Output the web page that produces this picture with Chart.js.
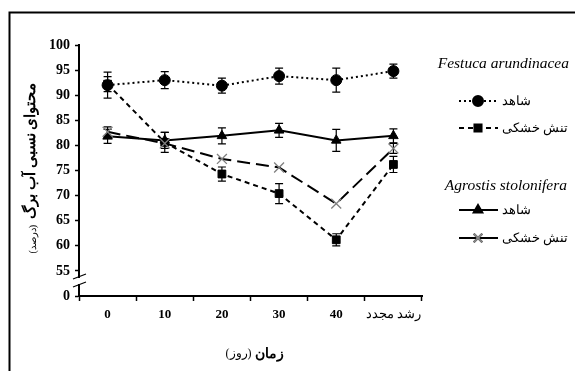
<!DOCTYPE html>
<html>
<head>
<meta charset="utf-8">
<script src="https://cdn.jsdelivr.net/npm/chart.js@4.4.0/dist/chart.umd.min.js"></script>
<style>
  html, body { margin: 0; padding: 0; background: #fff; }
  canvas { display: block; }
</style>
</head>
<body>
<canvas id="rwcChart" width="575" height="371"></canvas>
<script>
// days after start of drought + regrowth
const days = ['0', '10', '20', '30', '40', 'رشد مجدد'];

// Festuca arundinacea
const festucaControl = [92, 93, 91.9, 93.8, 93, 94.8];
const festucaControlErr = [2.6, 1.7, 1.5, 1.6, 2.4, 1.4];
const festucaDrought = [92.2, 80.6, 74.3, 70.4, 61.2, 76.2];
const festucaDroughtErr = [1.5, 2, 1.4, 2, 1.2, 1.6];

// Agrostis stolonifera
const agrostisControl = [81.8, 81, 81.9, 83, 81, 81.9];
const agrostisControlErr = [1.4, 1.6, 1.6, 1.4, 2.2, 1.4];
const agrostisDrought = [82.7, 80.4, 77.3, 75.6, 68.4, 79.4];
const agrostisDroughtErr = [1, 0, 0, 0, 0, 1];

const yMin = 50, yMax = 100, yStep = 5;

const frameAndLegend = {
  id: 'frameAndLegend',
  beforeDatasetsDraw(chart) {
    const ctx = chart.ctx;
    const y = chart.scales.y;
    ctx.save();
    ctx.strokeStyle = '#000';
    ctx.lineWidth = 1.2;
    chart.data.datasets.forEach((ds, i) => {
      const meta = chart.getDatasetMeta(i);
      meta.data.forEach((pt, j) => {
        const e = ds.errors[j];
        if (!e) return;
        const top = y.getPixelForValue(ds.data[j] + e);
        const bot = y.getPixelForValue(ds.data[j] - e);
        ctx.beginPath();
        ctx.moveTo(pt.x, top); ctx.lineTo(pt.x, bot);
        ctx.moveTo(pt.x - 4, top); ctx.lineTo(pt.x + 4, top);
        ctx.moveTo(pt.x - 4, bot); ctx.lineTo(pt.x + 4, bot);
        ctx.stroke();
      });
    });
    ctx.restore();
  },
  afterDraw(chart) {
    const ctx = chart.ctx;
    const area = chart.chartArea;
    ctx.save();

    // outer frame (top and left)
    ctx.strokeStyle = '#000';
    ctx.lineWidth = 2;
    ctx.beginPath();
    ctx.moveTo(575, 12.5); ctx.lineTo(9.5, 12.5); ctx.lineTo(9.5, 371);
    ctx.stroke();

    // axis break
    const ax = area.left;
    ctx.fillStyle = '#fff';
    ctx.fillRect(ax - 3, 278, 6, 6);
    ctx.lineWidth = 1.2;
    ctx.beginPath();
    ctx.moveTo(ax - 6, 279); ctx.lineTo(ax + 7, 274);
    ctx.moveTo(ax - 6, 287); ctx.lineTo(ax + 7, 282);
    ctx.stroke();

    // y title
    ctx.fillStyle = '#000';
    ctx.direction = 'rtl';
    ctx.translate(31, 168);
    ctx.rotate(-Math.PI / 2);
    ctx.textBaseline = 'middle';
    const mainFont = 'bold 15px "Liberation Serif", serif';
    const unitFont = '10px "Liberation Serif", serif';
    ctx.font = mainFont;
    const main = 'محتوای نسبی آب برگ';
    const mainW = ctx.measureText(main).width;
    ctx.font = unitFont;
    const unit = '(درصد)';
    const unitW = ctx.measureText(unit).width;
    const total = mainW + 6 + unitW;
    ctx.textAlign = 'right';
    ctx.font = mainFont;
    ctx.fillText(main, total / 2, 0);
    ctx.font = unitFont;
    ctx.fillText(unit, total / 2 - mainW - 6, 2);
    ctx.setTransform(1, 0, 0, 1, 0, 0);

    // x title
    ctx.textBaseline = 'middle';
    ctx.font = 'bold 14px "Liberation Serif", serif';
    const xt = 'زمان';
    const xtW = ctx.measureText(xt).width;
    ctx.font = '12px "Liberation Serif", serif';
    const xu = '(روز)';
    const xuW = ctx.measureText(xu).width;
    const xc = 255, xTot = xtW + 4 + xuW;
    ctx.textAlign = 'right';
    ctx.font = 'bold 14px "Liberation Serif", serif';
    ctx.fillText(xt, xc + xTot / 2, 354);
    ctx.font = '12px "Liberation Serif", serif';
    ctx.fillText(xu, xc + xTot / 2 - xtW - 4, 354);

    // legend
    ctx.direction = 'ltr';
    ctx.textAlign = 'right';
    ctx.font = 'italic 15.5px "Liberation Serif", serif';
    ctx.fillText('Festuca arundinacea', 569, 64);
    ctx.fillText('Agrostis stolonifera', 567, 186);

    const items = [
      { y: 101, label: 'شاهد', dash: [2, 3], marker: 'circle' },
      { y: 128, label: 'تنش خشکی', dash: [5, 4], marker: 'rect' },
      { y: 210, label: 'شاهد', dash: [], marker: 'triangle' },
      { y: 238, label: 'تنش خشکی', dash: [], marker: 'crossRot' }
    ];
    items.forEach(it => {
      ctx.strokeStyle = '#000';
      ctx.lineWidth = 2;
      ctx.setLineDash(it.dash);
      ctx.beginPath();
      ctx.moveTo(459, it.y); ctx.lineTo(498, it.y);
      ctx.stroke();
      ctx.setLineDash([]);
      const isCross = it.marker === 'crossRot';
      Chart.helpers.drawPoint(ctx, {
        pointStyle: it.marker,
        radius: isCross ? 6 : 5,
        borderWidth: isCross ? 1.2 : 1
      }, 478, it.y);
      ctx.fillStyle = '#000';
      ctx.strokeStyle = isCross ? '#888' : '#000';
      ctx.fill();
      if (isCross) ctx.stroke();
      ctx.fillStyle = '#000';
      ctx.direction = 'rtl';
      ctx.textAlign = 'left';
      ctx.font = '13px "Liberation Serif", serif';
      ctx.fillText(it.label, 502, it.y + 1);
      ctx.direction = 'ltr';
    });
    ctx.restore();
  }
};

function makeSet(data, errors, dash, style, radius, markColor) {
  return {
    data: data,
    errors: errors,
    borderColor: '#000',
    borderWidth: 2,
    borderDash: dash,
    pointStyle: style,
    pointRadius: radius,
    pointBackgroundColor: markColor,
    pointBorderColor: markColor,
    pointBorderWidth: style === 'crossRot' ? 1.3 : 1,
    fill: false,
    tension: 0
  };
}

new Chart(document.getElementById('rwcChart'), {
  type: 'line',
  data: {
    labels: days,
    datasets: [
      makeSet(agrostisDrought, agrostisDroughtErr, [13, 6], 'crossRot', 7, '#808080'),
      makeSet(agrostisControl, agrostisControlErr, [], 'triangle', 5.5, '#000'),
      makeSet(festucaDrought, festucaDroughtErr, [5, 4], 'rect', 5.5, '#000'),
      makeSet(festucaControl, festucaControlErr, [2, 3], 'circle', 5.5, '#000')
    ]
  },
  options: {
    responsive: false,
    animation: false,
    layout: { padding: { top: 45, right: 153, left: 0, bottom: 0 } },
    plugins: { legend: { display: false }, tooltip: { enabled: false } },
    scales: {
      x: {
        offset: true,
        afterFit: s => { s.height = 75; },
        grid: { offset: true, drawOnChartArea: false, drawTicks: true, tickLength: 5, tickColor: '#000', tickWidth: 1.5 },
        border: { color: '#000', width: 2 },
        ticks: {
          color: '#000',
          padding: 6,
          maxRotation: 0,
          autoSkip: false,
          font: c => ({ family: '"Liberation Serif", serif', size: 13, weight: c.index === 5 ? 'normal' : 'bold' })
        }
      },
      y: {
        min: yMin,
        max: yMax,
        afterFit: s => { s.width = 79; },
        grid: { drawOnChartArea: false, drawTicks: true, tickLength: 4, tickColor: '#000', tickWidth: 1.5 },
        border: { color: '#000', width: 2 },
        ticks: {
          stepSize: yStep,
          color: '#000',
          padding: 5,
          font: { family: '"Liberation Serif", serif', size: 14, weight: 'bold' },
          callback: v => (v === yMin ? '0' : v)
        }
      }
    }
  },
  plugins: [frameAndLegend]
});
</script>
</body>
</html>
